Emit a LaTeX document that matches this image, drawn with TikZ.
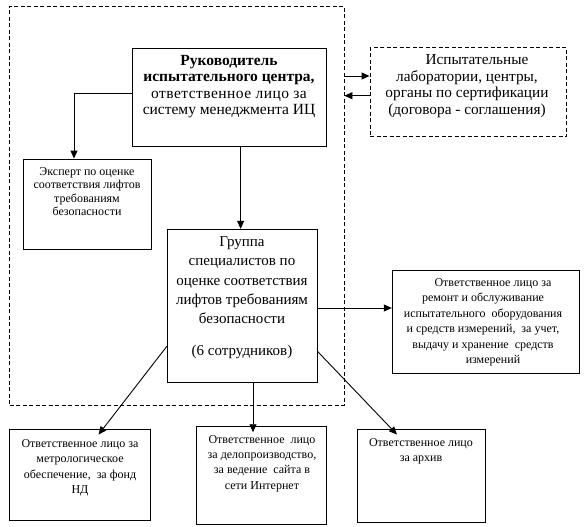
\documentclass[tikz,border=0pt]{standalone}
\usepackage{fontspec}
\setmainfont{Liberation Serif}
\usetikzlibrary{arrows.meta,fit}
\begin{document}
\begin{tikzpicture}[x=1pt,y=-1pt,
  box/.style={draw, line width=0.9pt, inner sep=0pt},
  dbox/.style={box, dash pattern=on 4pt off 2.5pt},
  txt/.style={align=center, inner sep=0pt, anchor=north},
  arr/.style={line width=0.9pt, -{Triangle[length=8pt,width=7pt]}}]
\useasboundingbox (0,0) rectangle (587,527);
% frames
\node[dbox, fit={(9.5,6) (344,405)}] (ic) {};
\node[box, fit={(132,48) (326,146)}] (ruk) {};
\node[dbox, fit={(370,47.7) (566.5,136.7)}] (lab) {};
\node[box, fit={(23.3,159) (151.7,249.3)}] (exp) {};
\node[box, fit={(167.3,229.3) (317,382.3)}] (grp) {};
\node[box, fit={(392.3,270) (579,373.7)}] (rem) {};
\node[box, fit={(9,429) (150.7,520)}] (bl) {};
\node[box, fit={(196.7,426.7) (326.7,524)}] (bm) {};
\node[box, fit={(357.3,429) (485.7,522.7)}] (br) {};
% texts
\node[txt, font=\fontsize{15.5}{16.3}\selectfont] (trk) at (229,55.2)
  {\textbf{Руководитель}\\ \textbf{испытательного центра,}\\
   {\addfontfeature{LetterSpace=3}ответственное лицо за}\\ систему менеджмента ИЦ};
\node[txt, font=\fontsize{15.3}{16.5}\selectfont] (tlab) at (467,54.6)
  {\hspace*{20pt}Испытательные\\ лаборатории, центры,\\ органы по сертификации\\ (договора - соглашения)};
\node[txt, font=\fontsize{12}{13.1}\selectfont] (texp) at (87,167.7)
  {Эксперт по оценке\\ соответствия лифтов\\ требованиям\\ безопасности};
\node[txt, font=\fontsize{15}{19.3}\selectfont] (tgrp) at (242,236.4)
  {Группа\\ специалистов по\\ оценке соответствия\\ лифтов требованиям\\ безопасности\\[13pt] (6 сотрудников)};
\node[txt, font=\fontsize{12}{15.5}\selectfont] (trem) at (483,278.3)
  {\hspace*{20pt}Ответственное лицо за\\ ремонт и обслуживание\\ испытательного\ \ оборудования\\
   и средств измерений,\ \ за учет,\\ выдачу и хранение\ \ средств\\ \hspace*{20pt}измерений};
\node[txt, font=\fontsize{12}{15.3}\selectfont] (tbl) at (80,439.3)
  {Ответственное лицо за\\ метрологическое\\ обеспечение,\ \ за фонд\\ НД};
\node[txt, font=\fontsize{12}{15.3}\selectfont] (tbm) at (262,435)
  {Ответственное\ \ лицо\\ за делопроизводство,\\ за ведение\ \ сайта в\\ сети Интернет};
\node[txt, font=\fontsize{12}{15.3}\selectfont] (tbr) at (421,438.3)
  {Ответственное лицо\\ за архив};
% level helpers
\coordinate (ya) at (0,76);
\coordinate (yb) at (0,95.7);
\coordinate (yc) at (0,308);
\coordinate (xg) at (240.6,0);
\coordinate (xm) at (253,0);
% connectors
\draw[arr] ([yshift=4pt]ruk.west) -| ([xshift=-13.5pt]exp.north);
\draw[arr] (ruk.south -| xg) -- (grp.north -| xg);
\draw[arr] (ic.east |- ya) -- (lab.west |- ya);
\draw[arr] (lab.west |- yb) -- (ic.east |- yb);
\draw[arr] (grp.east |- yc) -- (rem.west |- yc);
\draw[arr] ([yshift=-40.5pt]grp.west) -- ([xshift=18.7pt,yshift=-6pt]bl.north);
\draw[arr] (grp.south -| xm) -- ([yshift=-6pt]bm.north -| xm);
\draw[arr] ([yshift=-45.5pt]grp.east) -- ([xshift=-24.5pt,yshift=-6pt]br.north);
\end{tikzpicture}
\end{document}
